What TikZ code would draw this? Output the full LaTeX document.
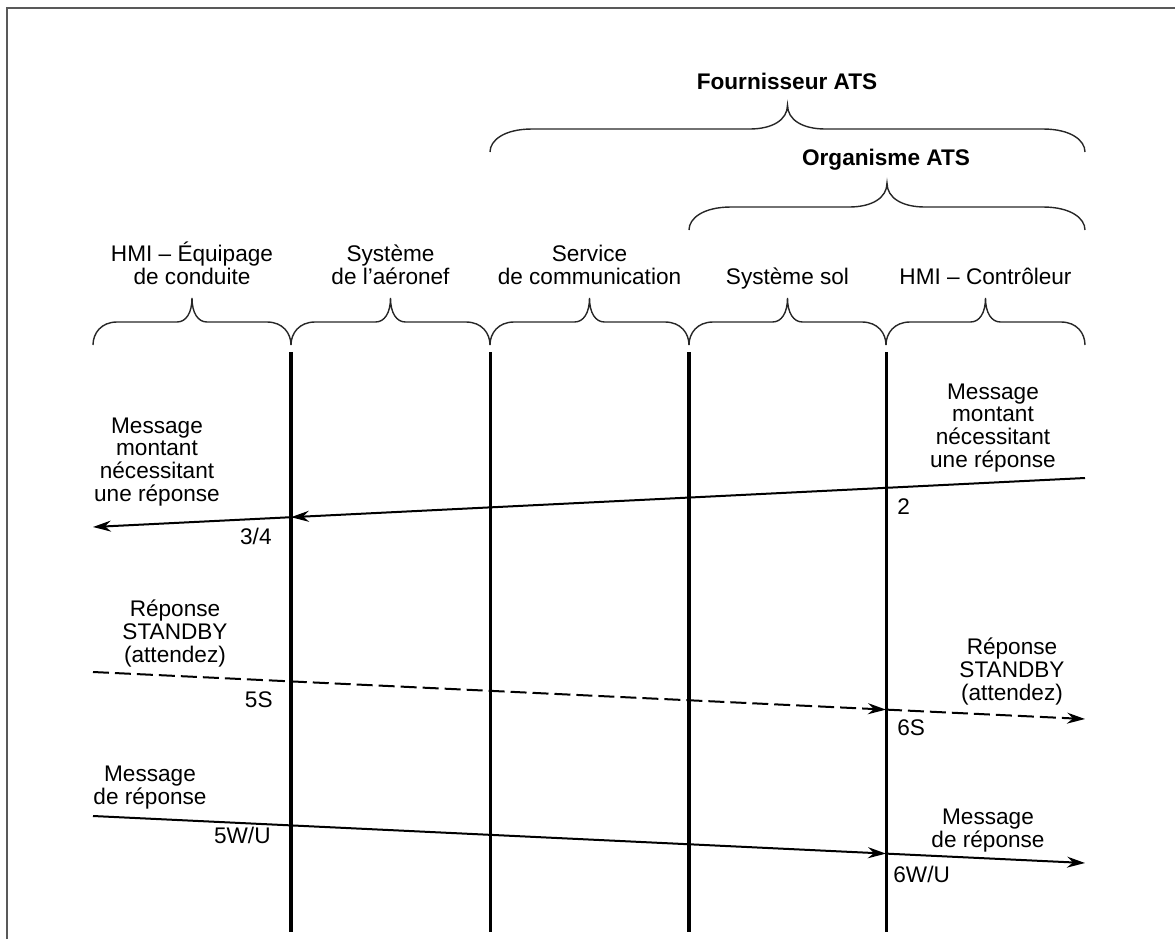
\documentclass[tikz,border=0pt]{standalone}
\usepackage{fontspec}
\setmainfont{Liberation Sans}
\usetikzlibrary{arrows.meta}
\tikzset{
  lbl/.style={align=center, font=\fontsize{11.3}{11.3}\selectfont, inner sep=0pt, anchor=base},
  ttl/.style={font=\bfseries\fontsize{11.3}{11.3}\selectfont, inner sep=0pt, anchor=base},
  brc/.style={line width=0.7pt, black!85},
  msg/.style={line width=1pt, -{Stealth[length=9pt,width=5.5pt,inset=3pt]}},
  stby/.style={msg, dash pattern=on 8pt off 3pt},
}
% curly bracket: x1, x2, y of the ends, end curve, middle curve
\newcommand{\brk}[5]{%
  \pgfmathsetmacro\bmid{(#1+#2)/2}%
  \draw[brc] (#1,#3) .. controls (#1,#3-12) and ({#1+0.35*#4},#3-23) .. ({#1+#4},#3-23)
    -- ({\bmid-#5},#3-23) .. controls ({\bmid-0.4*#5},#3-23) and (\bmid,#3-32) .. (\bmid,#3-47)
    .. controls (\bmid,#3-32) and ({\bmid+0.4*#5},#3-23) .. ({\bmid+#5},#3-23)
    -- ({#2-#4},#3-23) .. controls ({#2-0.35*#4},#3-23) and (#2,#3-12) .. (#2,#3);}
\begin{document}
\begin{tikzpicture}[x=0.5pt,y=-0.5pt]
\useasboundingbox (0,0) rectangle (1175,939);
\draw[line width=1.4pt, black!65] (7,939) -- (7,8) -- (1175,8); % frame

% braces over the columns
\foreach \a/\b in {93/291,291/490,490/689,689/886,886/1085}
  \brk{\a}{\b}{345}{24}{15};
\brk{490}{1085}{152}{42}{38} % fournisseur
\brk{689}{1085}{230}{42}{38} % organisme

% titles
\node[ttl] (fourn) at (787,89) {Fournisseur ATS};
\node[ttl] (organ) at (886,165) {Organisme ATS};
\node[lbl] (hmiE) at (192,284) {HMI – Équipage\\de conduite};
\node[lbl] (sysA) at (390.5,284) {Système\\de l’aéronef};
\node[lbl] (comm) at (589.5,284) {Service\\de communication};
\node[lbl] (sysS) at (787.5,284) {Système sol};
\node[lbl] (hmiC) at (985.5,284) {HMI – Contrôleur};

% lifelines
\foreach \x/\w in {291/2pt,490/1.5pt,689/2pt,886/1.5pt}
  \draw[line width=\w] (\x,352) -- (\x,932);

% message points
\coordinate (upR) at (1085,478);
\coordinate (upM) at (291,517.2);
\coordinate (upL) at (93,527);
\coordinate (sbL) at (93,672);
\coordinate (sbM) at (886,709.6);
\coordinate (sbR) at (1085,719);
\coordinate (reL) at (93,816);
\coordinate (reM) at (886,853.6);
\coordinate (reR) at (1085,863);

\draw[msg] (upR) -- (upM);
\draw[msg] (upM) -- (upL);
\draw[stby] (sbL) -- (sbM);
\draw[stby] (sbM) -- (sbR);
\draw[msg] (reL) -- (reM);
\draw[msg] (reM) -- (reR);

% message texts (base = last line)
\node[lbl] (upTR) at (993,467) {Message\\montant\\nécessitant\\une réponse};
\node[lbl] (upTL) at (157,501) {Message\\montant\\nécessitant\\une réponse};
\node[lbl] (sbTL) at (175,662) {Réponse\\STANDBY\\(attendez)};
\node[lbl] (sbTR) at (1012,700) {Réponse\\STANDBY\\(attendez)};
\node[lbl] (reTL) at (150,804) {Message\\de réponse};
\node[lbl] (reTR) at (988,847) {Message\\de réponse};

% step numbers
\node[lbl, anchor=base west] (n2) at (897,514) {2};
\node[lbl, anchor=base east] (n34) at (272,544) {3/4};
\node[lbl, anchor=base east] (n5S) at (273,707) {5S};
\node[lbl, anchor=base west] (n6S) at (897,735) {6S};
\node[lbl, anchor=base east] (n5W) at (271,843) {5W/U};
\node[lbl, anchor=base west] (n6W) at (893,882) {6W/U};
\end{tikzpicture}
\end{document}
